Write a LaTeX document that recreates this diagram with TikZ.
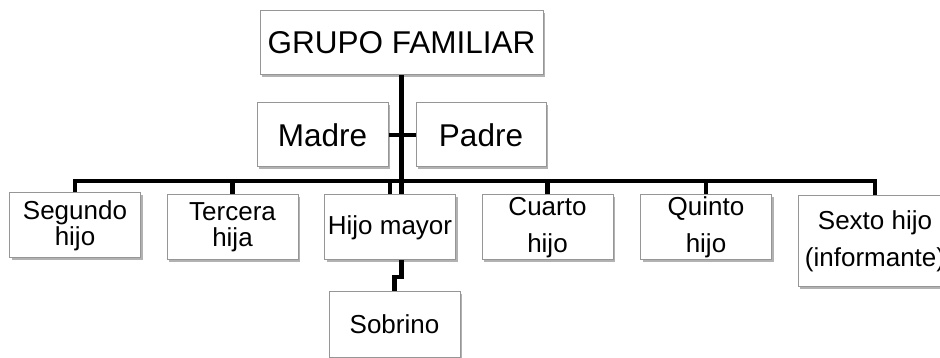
\documentclass[tikz,border=0pt]{standalone}
\usepackage{fontspec}
\setmainfont{Liberation Sans}
\usetikzlibrary{shadows}

\definecolor{gfgray}{RGB}{150,150,150}

\def\gfBoxWidth{131}
\def\gfBoxHeight{65}
\def\gfBusY{181}
\def\gfKinkY{277}

\tikzset{
    gfbox/.style = {draw = gfgray, fill = white, line width = 1pt,
        inner sep = 0pt, align = center,
        minimum width = \gfBoxWidth pt, minimum height = \gfBoxHeight pt,
        drop shadow = {shadow xshift = 2pt, shadow yshift = -2.5pt,
            opacity = 0.3, fill = black}},
    gftop/.style = {gfbox, font = \fontsize{31.5}{33}\selectfont},
    gfchild/.style = {gfbox, font = \fontsize{26}{26}\selectfont},
    gfloose/.style = {gfbox, font = \fontsize{26}{37}\selectfont},
    gflink/.style = {line width = 4.5pt, black},
}

\begin{document}
\begin{tikzpicture}[x = 1pt, y = -1pt]
            \clip (0,0) rectangle (940,358);
            \useasboundingbox (0,0) rectangle (940,358);
            \coordinate (bus) at (0,\gfBusY);
            \coordinate (kink) at (0,\gfKinkY);
            %% top
            \node [gftop, minimum width = 283pt, minimum height = 64pt]
            (grupo) at (401.5,43) {GRUPO FAMILIAR};
            %% parents
            \node [gftop, minimum height = 64pt] (madre) at (322.5,135) {Madre};
            \node [gftop, minimum width = 130pt, minimum height = 64pt]
            (padre) at (481,135) {Padre};
            %% children
            \node [gfchild] (segundo) at (75,225.5) {Segundo\\hijo};
            \node [gfchild] (tercera) at (232.5,227.5) {Tercera\\hija};
            \node [gfchild] (mayor) at (390,227.5) {Hijo mayor};
            \node [gfloose] (cuarto) at (547.5,227.5) {Cuarto\\hijo};
            \node [gfloose] (quinto) at (706,227.5) {Quinto\\hijo};
            \node [gfloose, minimum width = 154pt, minimum height = 90pt]
            (sexto) at (875,241) {Sexto hijo\\(informante)};
            %% grandchild
            \node [gfchild, minimum height = 66pt] (sobrino) at (394.5,324) {Sobrino};
            %% links
            \draw [gflink]
            (grupo.south) -- (grupo.south |- mayor.north)
            (madre.east) -- (padre.west)
            ;
            \draw [gflink]
            (segundo.north) -- (segundo.north |- bus)
            -- (sexto.north |- bus) -- (sexto.north)
            ;
            \foreach \gfKid in {tercera, mayor, cuarto, quinto}
                \draw [gflink] (\gfKid.north |- bus) -- (\gfKid.north);
            \draw [gflink]
            (grupo.south |- mayor.south) -- (grupo.south |- kink)
            -| (sobrino.north)
            ;
\end{tikzpicture}
\end{document}
